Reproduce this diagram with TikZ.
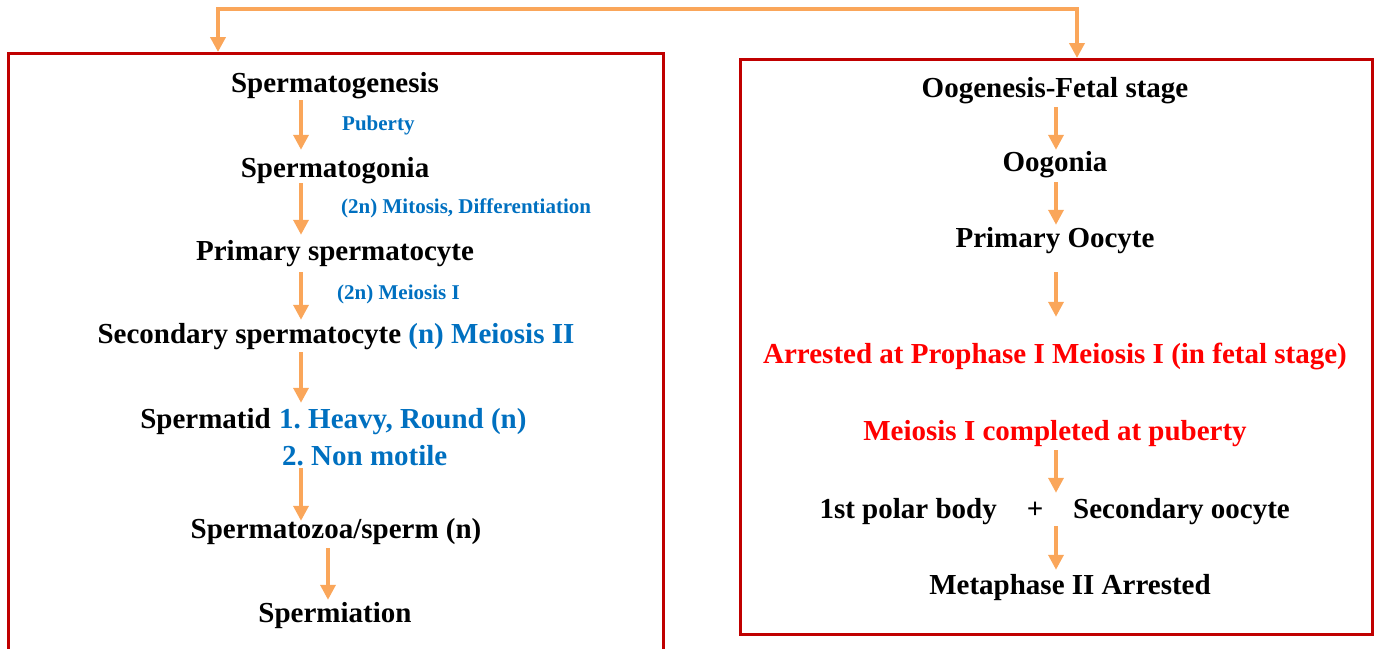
\documentclass[tikz,border=0pt]{standalone}
\usepackage{fontspec}
\setmainfont{Liberation Serif}
\usetikzlibrary{arrows.meta}
\definecolor{arrorange}{RGB}{250,166,90}
\definecolor{boxred}{RGB}{192,0,0}
\definecolor{txtblue}{RGB}{0,112,192}
\definecolor{txtred}{RGB}{255,0,0}
\frenchspacing
\begin{document}
\begin{tikzpicture}[x=1pt,y=-1pt,
  main/.style={font=\bfseries\fontsize{29}{34}\selectfont, inner sep=0pt, text height=20pt, text depth=6pt, anchor=base},
  lab/.style={font=\bfseries\fontsize{21}{25}\selectfont, text=txtblue, inner sep=0pt, text height=15pt, text depth=5pt, anchor=base west},
  flow/.style={draw=arrorange, line width=3.5pt, -{Triangle[length=15pt,width=15pt]}},
  topc/.style={draw=arrorange, line width=4pt, {Triangle[length=15pt,width=15pt]}-{Triangle[length=15pt,width=15pt]}},
  frame/.style={draw=boxred, line width=2.5pt, inner sep=0pt, anchor=north west},
]
\useasboundingbox (0,0) rectangle (1378,648);
\clip (0,0) rectangle (1378,648);

% boxes
\node[frame, minimum width=655pt, minimum height=620pt] (lbox) at (7,52) {};
\node[frame, minimum width=632pt, minimum height=575pt] (rbox) at (739,58) {};

% left column
\node[main] (sgen) at (335,92) {Spermatogenesis};
\node[lab] (pub) at (342,130) {Puberty};
\node[main] (sgon) at (335,177) {Spermatogonia};
\node[lab] (mit) at (341,213) {(2n) Mitosis, Differentiation};
\node[main] (prim) at (335,260) {Primary spermatocyte};
\node[lab] (mei1) at (337,299) {(2n) Meiosis I};
\node[main] (sec) at (336,343) {Secondary spermatocyte \textcolor{txtblue}{(n) Meiosis II}};
\node[main, anchor=base east] (sptd) at (271,428) {Spermatid};
\node[main, anchor=base west, text=txtblue] (sinfo1) at (279,428) {1. Heavy, Round (n)};
\node[main, anchor=base west, text=txtblue] (sinfo2) at (282,465) {2. Non motile};
\node[main] (szoa) at (336,538) {Spermatozoa/sperm (n)};
\node[main] (smia) at (335,622) {Spermiation};

% right column
\node[main] (ogen) at (1055,97) {Oogenesis-Fetal stage};
\node[main] (ogon) at (1055,171) {Oogonia};
\node[main] (poo) at (1055,247) {Primary Oocyte};
\node[main, text=txtred] (arr) at (1055,363) {Arrested at Prophase I Meiosis I (in fetal stage)};
\node[main, text=txtred] (mcomp) at (1055,440) {Meiosis I completed at puberty};
\node[main, anchor=base east] (pb) at (997,518) {1st polar body};
\node[main] (plus) at (1035,518) {+};
\node[main, anchor=base west] (soo) at (1073,518) {Secondary oocyte};
\node[main] (meta) at (1070,594) {Metaphase II Arrested};

% arrow columns
\coordinate (lx) at (301,0);
\coordinate (lx2) at (328,0);
\coordinate (rx) at (1056,0);
\coordinate (tl) at (218,0);
\coordinate (tr) at (1077,0);
\coordinate (ttop) at (640,9);

% left arrows
\draw[flow, shorten <=2pt, shorten >=7pt] (sgen.south -| lx) -- (sgon.north -| lx);
\draw[flow, shorten >=5pt] (sgon.south -| lx) -- (prim.north -| lx);
\draw[flow, shorten <=6pt, shorten >=3pt] (prim.south -| lx) -- (sec.north -| lx);
\draw[flow, shorten <=3pt, shorten >=5pt] (sec.south -| lx) -- (sinfo1.north -| lx);
\draw[flow, shorten <=-3pt, shorten >=-3pt] (sinfo2.south -| lx) -- (szoa.north -| lx);
\draw[flow, shorten <=4pt, shorten >=2pt] (szoa.south -| lx2) -- (smia.north -| lx2);

% right arrows
\draw[flow, shorten <=4pt, shorten >=1pt] (ogen.south -| rx) -- (ogon.north -| rx);
\draw[flow, shorten <=5pt, shorten >=2pt] (ogon.south -| rx) -- (poo.north -| rx);
\draw[flow, shorten <=19pt, shorten >=26pt] (poo.south -| rx) -- (arr.north -| rx);
\draw[flow, shorten <=4pt, shorten >=5pt] (mcomp.south -| rx) -- (plus.north -| rx);
\draw[flow, shorten <=2pt, shorten >=4pt] (plus.south -| rx) -- (meta.north -| rx);

% top connector
\draw[topc] (lbox.north -| tl) |- (ttop) -| (rbox.north -| tr);
\end{tikzpicture}
\end{document}
